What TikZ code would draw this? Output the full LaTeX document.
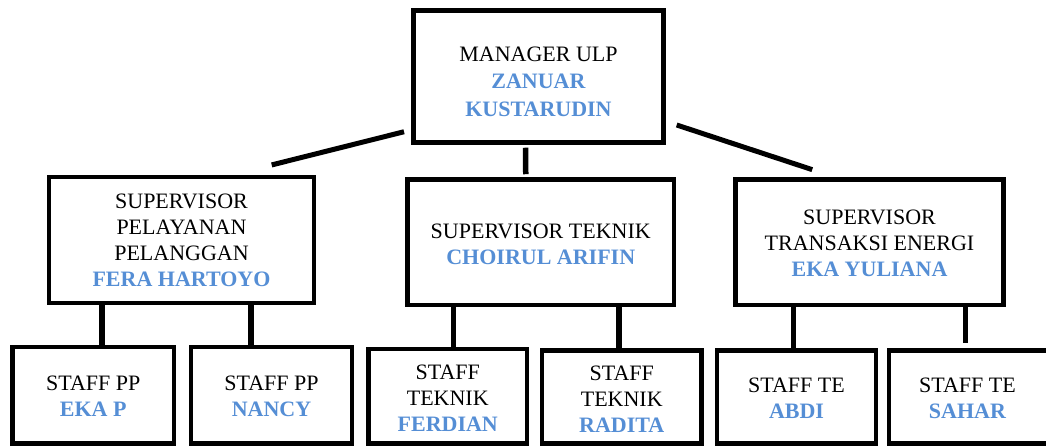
\documentclass[tikz,border=0pt]{standalone}
\usepackage{fontspec}
\setmainfont{Liberation Serif}
\usetikzlibrary{calc}
\definecolor{nameblue}{RGB}{85,142,213}
\newcommand\pname[1]{\textcolor{nameblue}{\textbf{#1}}}
\begin{document}
\begin{tikzpicture}[x=1pt,y=-1pt,
  box/.style={draw,line width=4.5pt,rectangle,inner sep=0pt},
  lbl/.style={align=center,font=\fontsize{22}{26}\selectfont,inner sep=0pt},
  vconn/.style={line width=5.5pt},
  sconn/.style={line width=5pt}]
\useasboundingbox (0,0) rectangle (1046,446);
\clip (0,0) rectangle (1046,446);
% boxes
\node[box,minimum width=250pt,minimum height=132pt] (mgr) at (538.5,76.5) {};
\node[box,minimum width=265pt,minimum height=126pt] (sup1) at (181.5,240) {};
\node[box,minimum width=266.5pt,minimum height=125.5pt] (sup2) at (540.75,242.25) {};
\node[box,minimum width=268pt,minimum height=125.5pt] (sup3) at (869.5,242.25) {};
\node[box,minimum width=161.5pt,minimum height=96.5pt] (st1) at (93.25,395.25) {};
\node[box,minimum width=161pt,minimum height=96.5pt] (st2) at (271.5,395.25) {};
\node[box,minimum width=158.5pt,minimum height=94.5pt] (st3) at (447.75,396.25) {};
\node[box,minimum width=159.5pt,minimum height=93pt] (st4) at (621.75,397) {};
\node[box,minimum width=159pt,minimum height=93pt] (st5) at (796.5,397) {};
\node[box,minimum width=162pt,minimum height=93pt] (st6) at (970,397) {};
% texts
\node[lbl] (mgrT) at (538.5,81.5) {MANAGER ULP\\[1.5pt]\pname{ZANUAR}\\[1.5pt]\pname{KUSTARUDIN}};
\node[lbl] (sup1T) at (181.5,240.8) {SUPERVISOR\\PELAYANAN\\PELANGGAN\\\pname{FERA HARTOYO}};
\node[lbl] (sup2T) at (540.75,244.6) {SUPERVISOR TEKNIK\\\pname{CHOIRUL ARIFIN}};
\node[lbl] (sup3T) at (869.5,243.7) {SUPERVISOR\\TRANSAKSI ENERGI\\\pname{EKA YULIANA}};
\node[lbl] (st1T) at (93.25,396.7) {STAFF PP\\\pname{EKA P}};
\node[lbl] (st2T) at (271.5,396.2) {STAFF PP\\\pname{NANCY}};
\node[lbl] (st3T) at (447.75,397.8) {STAFF\\TEKNIK\\\pname{FERDIAN}};
\node[lbl] (st4T) at (621.75,399.4) {STAFF\\TEKNIK\\\pname{RADITA}};
\node[lbl] (st5T) at (796.5,398) {STAFF TE\\\pname{ABDI}};
\node[lbl] (st6T) at (967.5,398) {STAFF TE\\\pname{SAHAR}};
% connectors manager -> supervisors
\coordinate (la) at ($(mgr.south west)+(-7.25,-13)$);
\coordinate (lb) at ($(sup1.north)+(90.2,-9.8)$);
\coordinate (ra) at ($(mgr.south east)+(10.95,-19.75)$);
\coordinate (rb) at ($(sup3.north west)+(79,-7.6)$);
\draw[sconn] (la) -- (lb);
\draw[sconn] (ra) -- (rb);
\draw[vconn,shorten <=3pt,shorten >=3pt] ([xshift=-12.8pt]mgr.south) -- ([xshift=-15pt]sup2.north);
% connectors supervisors -> staff
\draw[vconn] ([xshift=-79.5pt]sup1.south) -- ([xshift=8.75pt]st1.north);
\draw[vconn] ([xshift=69.5pt]sup1.south) -- ([xshift=-20.5pt]st2.north);
\draw[vconn] ([xshift=-87.25pt]sup2.south) -- ([xshift=5.75pt]st3.north);
\draw[vconn] ([xshift=78.25pt]sup2.south) -- ([xshift=-2.75pt]st4.north);
\draw[vconn] ([xshift=-76pt]sup3.south) -- ([xshift=-3pt]st5.north);
\draw[vconn,shorten >=5pt] ([xshift=96pt]sup3.south) -- ([xshift=-4.5pt]st6.north);
\end{tikzpicture}
\end{document}
